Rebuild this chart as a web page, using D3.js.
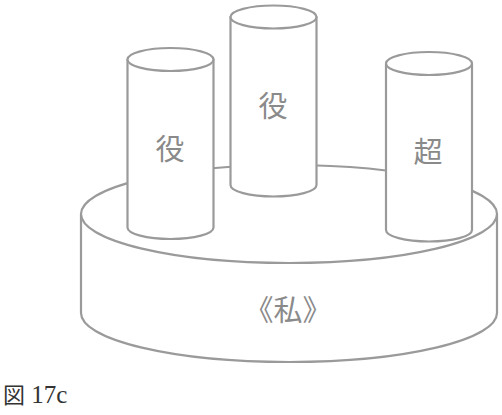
<!DOCTYPE html>
<html><head><meta charset="utf-8">
<script src="https://cdn.jsdelivr.net/npm/d3@7"></script>
<style>body{margin:0;background:#fff}svg{display:block}</style>
</head><body>
<svg id="c" width="502" height="415"></svg>
<script>
const pillarLabels = ["役", "役", "超"];
const baseLabel = "《私》";
const caption = "図 17c";

const svg = d3.select("#c");
const stroke = "#9a9a9a", txt = "#8a8a8a", sw = 2.2;

function ellipsePath(cx, cy, rx, ry) {
  return `M${cx-rx},${cy}A${rx},${ry} 0 1 0 ${cx+rx},${cy}A${rx},${ry} 0 1 0 ${cx-rx},${cy}Z`;
}
function cylinder(g, cx, topY, botY, rx, ry) {
  g.append("path")
    .attr("d", `M${cx-rx},${topY}L${cx-rx},${botY}A${rx},${ry} 0 0 0 ${cx+rx},${botY}L${cx+rx},${topY}Z`)
    .attr("fill", "#fff").attr("stroke", stroke).attr("stroke-width", sw).attr("stroke-linejoin", "round");
  g.append("path").attr("d", ellipsePath(cx, topY, rx, ry))
    .attr("fill", "#fff").attr("stroke", stroke).attr("stroke-width", sw);
}

const g = svg.append("g");
// base disk
cylinder(g, 289, 214, 313, 208, 49);
g.append("text").attr("x", 288).attr("y", 321).attr("text-anchor", "middle")
  .attr("font-family", "Noto Sans CJK JP").attr("font-size", 29).attr("fill", txt).text(baseLabel);

// pillars: [cx, topY, botY]
const pillars = [
  {cx: 170.5, top: 59.5, bot: 227.5, lx: 170, ly: 160},
  {cx: 273.5, top: 17, bot: 185, lx: 273, ly: 117},
  {cx: 429, top: 63.5, bot: 230, lx: 428, ly: 163}
];
pillars.forEach((p, i) => {
  cylinder(g, p.cx, p.top, p.bot, 43, 11.5);
  g.append("text").attr("x", p.lx).attr("y", p.ly).attr("text-anchor", "middle")
    .attr("font-family", "Noto Sans CJK JP").attr("font-size", 29).attr("fill", txt).text(pillarLabels[i]);
});

const cap = svg.append("text").attr("x", 3).attr("y", 403).attr("font-size", 22).attr("fill", "#333");
cap.append("tspan").attr("font-family", "Noto Sans CJK JP").text("図");
cap.append("tspan").attr("font-family", "Liberation Serif").attr("font-size", 25).text(" 17c");
</script>
</body></html>
